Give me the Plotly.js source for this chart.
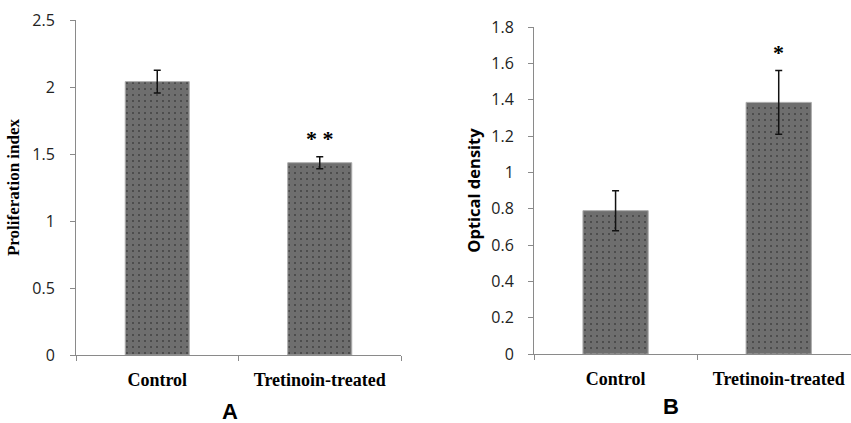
<!DOCTYPE html>
<html>
<head>
<meta charset="utf-8">
<script src="https://cdn.plot.ly/plotly-3.0.1.min.js"></script>
<style>html,body{margin:0;padding:0;background:#fff;}#chart{width:851px;height:423px;}</style>
</head>
<body>
<div id="chart"></div>
<script>
const categories = ["Control", "Tretinoin-treated"];
const prolifValues = [2.04, 1.435];
const prolifErrors = [0.085, 0.045];
const prolifSig = ["", "**"];
const odValues = [0.789, 1.385];
const odErrors = [0.11, 0.175];
const odSig = ["", "*"];
const panelLabels = ["A", "B"];
const yTitles = ["Proliferation index", "Optical density"];
const yTicksA = [0, 0.5, 1, 1.5, 2, 2.5];
const yTickTextA = ["0", "0.5", "1", "1.5", "2", "2.5"];
const yTicksB = [0, 0.2, 0.4, 0.6, 0.8, 1, 1.2, 1.4, 1.6, 1.8];
const yTickTextB = ["0", "0.2", "0.4", "0.6", "0.8", "1", "1.2", "1.4", "1.6", "1.8"];

const W = 851, H = 423;
const barColor = "#6e6e6e";
const pattern = {shape: ".", fgcolor: "#1a1a1a", bgcolor: barColor, size: 6, solidity: 0.1, fillmode: "overlay"};

function barTrace(vals, errs, xa, ya, width) {
  return {
    type: "bar", x: categories, y: vals, xaxis: xa, yaxis: ya, width: width,
    marker: {color: barColor, pattern: pattern, line: {color: "#ababab", width: 1}},
    error_y: {type: "data", array: errs, visible: true, color: "#111", thickness: 1.5, width: 3.5},
    hoverinfo: "skip", showlegend: false
  };
}

const traces = [
  barTrace(prolifValues, prolifErrors, "x", "y", 0.394),
  barTrace(odValues, odErrors, "x2", "y2", 0.40)
];

const sigFont = {family: "Liberation Serif", size: 22, color: "#000"};
const annotations = [];
prolifSig.forEach((s, i) => { if (s) annotations.push({xref: "x", yref: "y", x: categories[i], y: prolifValues[i] + prolifErrors[i], text: "<b>" + s.split("").join(" ") + "</b>", showarrow: false, yanchor: "bottom", yshift: 4, font: sigFont}); });
odSig.forEach((s, i) => { if (s) annotations.push({xref: "x2", yref: "y2", x: categories[i], y: odValues[i] + odErrors[i], text: "<b>" + s + "</b>", showarrow: false, yanchor: "bottom", yshift: 4, font: sigFont}); });
annotations.push({xref: "paper", yref: "paper", x: 220 / W, y: 1 - 426 / H, yanchor: "bottom", text: "<b>" + panelLabels[0] + "</b>", showarrow: false, font: {family: "Liberation Sans", size: 22, color: "#000"}});
annotations.push({xref: "paper", yref: "paper", x: 681 / W, y: 1 - 421 / H, yanchor: "bottom", text: "<b>" + panelLabels[1] + "</b>", showarrow: false, font: {family: "Liberation Sans", size: 22, color: "#000"}});

const tickFont = {family: "Open Sans", size: 16, color: "#222"};
const catFont = {family: "Liberation Serif", size: 18, color: "#000", weight: "bold"};
const axisCommon = {showgrid: false, zeroline: false, showline: true, linecolor: "#8a8a8a", linewidth: 1, ticks: "outside", tickcolor: "#8a8a8a", ticklen: 5, fixedrange: true};

const layout = {
  width: W, height: H,
  margin: {l: 0, r: 0, t: 0, b: 0},
  paper_bgcolor: "#fff", plot_bgcolor: "#fff",
  bargap: 0,
  xaxis: Object.assign({}, axisCommon, {domain: [76 / W, 401 / W], range: [-0.5, 1.5], tickson: "boundaries", anchor: "y", tickfont: catFont, ticklabelstandoff: 8}),
  yaxis: Object.assign({}, axisCommon, {domain: [1 - 355 / H, 1 - 20 / H], range: [0, 2.5], anchor: "x", tickvals: yTicksA, ticktext: yTickTextA, tickfont: tickFont, ticklabelstandoff: 12,
    title: {text: "<b>" + yTitles[0] + "</b>", font: {family: "Liberation Serif", size: 17, color: "#000"}, standoff: 8}}),
  xaxis2: Object.assign({}, axisCommon, {domain: [534 / W, 1], range: [-0.5, 1.443], tickson: "boundaries", anchor: "y2", tickfont: catFont, ticklabelstandoff: 8}),
  yaxis2: Object.assign({}, axisCommon, {domain: [1 - 354 / H, 1 - 27 / H], range: [0, 1.8], anchor: "x2", tickvals: yTicksB, ticktext: yTickTextB, tickfont: tickFont, ticklabelstandoff: 11,
    title: {text: "<b>" + yTitles[1] + "</b>", font: {family: "Open Sans", size: 16.5, color: "#000"}, standoff: 6}}),
  annotations: annotations
};

Plotly.newPlot("chart", traces, layout, {displayModeBar: false, staticPlot: true});
</script>
</body>
</html>
